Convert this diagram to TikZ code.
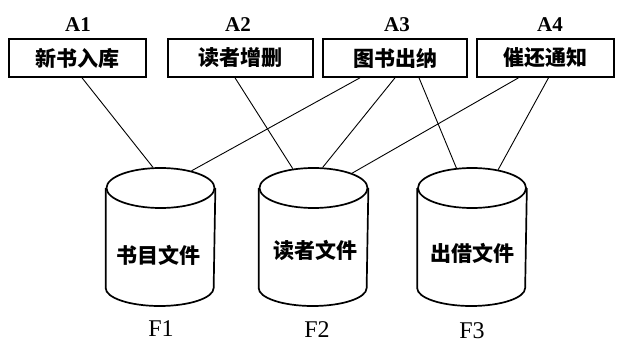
\documentclass[tikz,border=0pt]{standalone}
\usepackage{fontspec}
\setmainfont{Liberation Serif}
\newfontfamily\cjk{Noto Sans CJK SC}
\usetikzlibrary{shapes.geometric}
\begin{document}
\begin{tikzpicture}[x=1pt,y=1pt,
  procbox/.style={draw,line width=1.6pt,rectangle,minimum height=38pt,inner sep=0pt,font=\cjk\bfseries\fontsize{21}{21}\selectfont},
  drumtop/.style={draw,line width=1.7pt,ellipse,minimum width=108pt,minimum height=40pt,inner sep=0pt},
  drumline/.style={line width=1.7pt},
  link/.style={line width=0.9pt},
  alabel/.style={font=\bfseries\fontsize{21}{22}\selectfont,inner sep=0pt},
  flabel/.style={font=\fontsize{24}{25}\selectfont,inner sep=0pt},
  drumtext/.style={font=\cjk\bfseries\fontsize{21}{21}\selectfont,inner sep=0pt}]
\useasboundingbox (0,0) rectangle (620,343);
% process boxes
\node[procbox,minimum width=137pt] (b1) at (77.5,285) {新书入库};
\node[procbox,minimum width=145pt] (b2) at (240.5,285) {读者增删};
\node[procbox,minimum width=144pt] (b3) at (395,285) {图书出纳};
\node[procbox,minimum width=137pt] (b4) at (545.5,285) {催还通知};
% box labels
\node[alabel] (a1) at (78,318) {A1};
\node[alabel] (a2) at (238,318) {A2};
\node[alabel] (a3) at (397,318) {A3};
\node[alabel] (a4) at (550,318) {A4};
% file drums
\foreach \n/\cx in {c1/160.5,c2/313.5,c3/472}{
  \node[drumtop] (\n) at (\cx,155) {};
  \draw[drumline] (\n.west) -- ++(0,-100) arc[start angle=180,end angle=360,x radius=54pt,y radius=18pt] -- (\n.east);
}
\node[drumtext] (t1) at (158,88) {书目文件};
\node[drumtext] (t2) at (315,93) {读者文件};
\node[drumtext] (t3) at (472,90) {出借文件};
\node[flabel] (f1) at (161,14) {F1};
\node[flabel] (f2) at (317,13) {F2};
\node[flabel] (f3) at (472,12) {F3};
% connectors
\draw[link] ([xshift=4.5pt]b1.south) -- (c1.110.7);
\draw[link] ([xshift=-5.5pt]b2.south) -- (c2.137.9);
\draw[link] ([xshift=-35pt]b3.south) -- (c1.29.7);
\draw[link] (b3.south) -- (c2.66.8);
\draw[link] ([xshift=24pt]b3.south) -- (c3.128);
\draw[link] ([xshift=-27pt]b4.south) -- (c2.21.9);
\draw[link] ([xshift=3pt]b4.south) -- (c3.35.3);
\end{tikzpicture}
\end{document}
